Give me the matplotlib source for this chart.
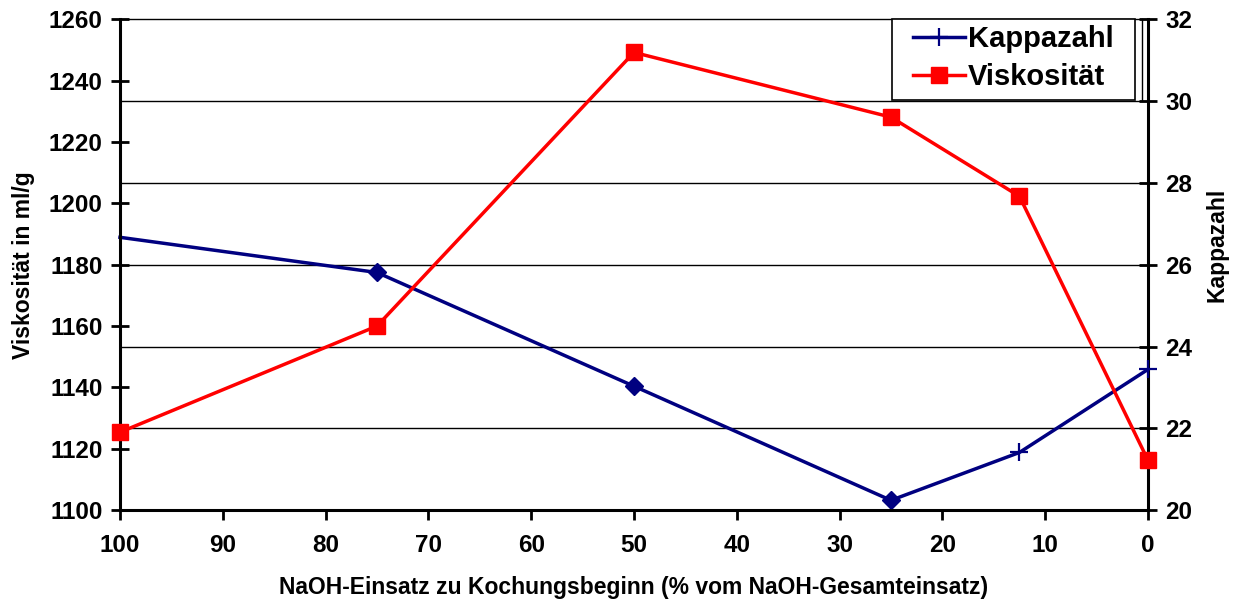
import matplotlib.pyplot as plt
from matplotlib.lines import Line2D
from matplotlib.patches import Rectangle

plt.rcParams['font.family'] = ['Liberation Sans', 'DejaVu Sans']
plt.rcParams['font.weight'] = 'bold'

# NaOH share at cooking start (% of total NaOH)
naoh_start = [100, 75, 50, 25, 12.5, 0]
viskositaet = [1125.4, 1160.0, 1249.2, 1228.1, 1202.3, 1116.3]
kappazahl = [26.67, 25.81, 23.03, 20.24, 21.41, 23.44]
# points that carry a diamond marker in the Kappa series
kappa_diamond_x = [75, 50, 25]
kappa_diamond_y = [25.81, 23.03, 20.24]

navy = '#000080'
red = '#ff0000'

fig = plt.figure(figsize=(12.37, 6.03), dpi=100)
ax = fig.add_axes([0.097, 0.154, 0.831, 0.814])
ax2 = ax.twinx()

# Kappa axis on the right, gridlines come from it
ax2.set_ylim(20, 32)
ax2.set_yticks(range(20, 33, 2))
for v in range(22, 33, 2):
    ax2.axhline(v, color='black', lw=1.0, zorder=0, clip_on=False)
ax2.plot(naoh_start, kappazahl, color=navy, lw=2.5, marker='+', ms=13, mew=1.6,
         markevery=[4, 5], clip_on=False, zorder=3)
ax2.plot(kappa_diamond_x, kappa_diamond_y, ls='none', marker='D', ms=9,
         color=navy, clip_on=False, zorder=3)

ax.plot(naoh_start, viskositaet, color=red, lw=2.5, marker='s', ms=12,
        clip_on=False, zorder=4)
ax.set_zorder(ax2.get_zorder() + 1)
ax.patch.set_visible(False)

ax.set_xlim(100, 0)
ax.set_xticks(range(100, -1, -10))
ax.set_ylim(1100, 1260)
ax.set_yticks(range(1100, 1261, 20))

for a in (ax, ax2):
    a.spines['top'].set_visible(False)
    for s in ('left', 'right', 'bottom'):
        a.spines[s].set_linewidth(2.2)
ax.spines['right'].set_visible(False)
ax2.spines['left'].set_visible(False)
ax2.spines['bottom'].set_visible(False)

ax.tick_params(axis='x', direction='out', length=7, width=2, labelsize=17.5, pad=10)
ax.tick_params(axis='y', direction='inout', length=13, width=2, labelsize=17.5, pad=6)
ax2.tick_params(axis='y', direction='inout', length=13, width=2, labelsize=17.5, pad=6)
for lbl in ax.get_xticklabels() + ax.get_yticklabels() + ax2.get_yticklabels():
    lbl.set_fontweight('bold')

ax.set_xlabel('NaOH-Einsatz zu Kochungsbeginn (% vom NaOH-Gesamteinsatz)',
              fontsize=16.5, fontweight='bold', labelpad=14)
ax.set_ylabel('Viskosität in ml/g', fontsize=16.5, fontweight='bold', labelpad=10)
ax2.set_ylabel('Kappazahl', fontsize=16.5, fontweight='bold')
ax2.yaxis.set_label_coords(1.056, 0.54)

# legend box with a second thin border line on its right side
box_x0, box_x1, box_y0 = 0.751, 0.987, 0.835
ax.add_patch(Rectangle((box_x0, box_y0), box_x1 - box_x0, 1 - box_y0,
                       transform=ax.transAxes, facecolor='white',
                       edgecolor='black', lw=1.2, zorder=5, clip_on=False))
ax.add_line(Line2D([0.994, 0.994], [box_y0, 1.0], transform=ax.transAxes,
                   color='black', lw=1.0, zorder=5, clip_on=False))

handles = [
    Line2D([], [], color=navy, lw=2.5, marker='+', ms=13, mew=1.6),
    Line2D([], [], color=red, lw=2.5, marker='s', ms=12),
]
leg = ax.legend(handles, ['Kappazahl', 'Viskosität'], loc='center',
                bbox_to_anchor=((box_x0 + box_x1) / 2, (box_y0 + 1) / 2 + 0.004),
                frameon=False, prop={'size': 21, 'weight': 'bold'},
                handlelength=1.8, handletextpad=0.1, borderpad=0.1,
                labelspacing=0.35, borderaxespad=0)
leg.set_zorder(6)

fig.savefig('out.png', dpi=100)
